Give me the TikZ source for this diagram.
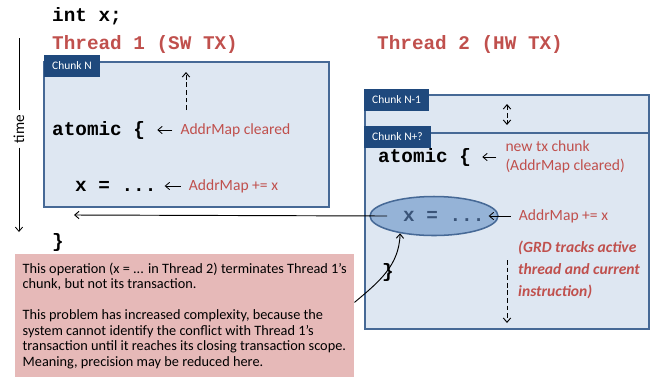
\documentclass[tikz,border=0pt]{standalone}
\usepackage{fontspec}
\setmainfont{Carlito}
\newfontfamily\codefont{Liberation Mono}
\usepackage{tikz}
\usetikzlibrary{shapes,positioning,calc,arrows.meta,arrows}

\definecolor{txred}{RGB}{192,80,77}
\definecolor{chunkfill}{RGB}{222,231,242}
\definecolor{chunkline}{RGB}{70,105,150}
\definecolor{tabblue}{RGB}{31,73,125}
\definecolor{hlfill}{RGB}{149,179,215}
\definecolor{hltext}{RGB}{58,84,120}
\definecolor{remarkfill}{RGB}{230,185,184}

\begin{document}
\begin{tikzpicture}[
    x=0.3mm, y=-0.3mm,
    >={Straight Barb[length=1.3mm,width=2.2mm]},
    code/.style={anchor=west,inner sep=0pt,font=\codefont\bfseries\fontsize{16.5}{19}\selectfont},
    heading/.style={code,text=txred},
    memo/.style={anchor=west,inner sep=0pt,text=txred,align=left,font=\fontsize{13.3}{16}\selectfont},
    chunk/.style={draw=chunkline,fill=chunkfill,line width=1.3pt},
    tab/.style={fill=tabblue,text=white,anchor=north west,inner xsep=2.4mm,minimum height=6.4mm,font=\fontsize{9.8}{11}\selectfont},
    pointer/.style={->,line width=0.7pt,shorten <=2.4mm},
    flow/.style={->,dashed,line width=0.8pt,dash pattern=on 4pt off 2.5pt}
    ]
        \useasboundingbox (0,0) rectangle (652,377);

        % headings
        \node [code](intx) at (52,16) {int x;};
        \node [heading](th1) at (52,44) {Thread 1 (SW TX)};
        \node [heading](th2) at (377,44) {Thread 2 (HW TX)};

        % time axis
        \node [rotate=90,inner xsep=1.3mm,font=\fontsize{13}{15}\selectfont](time) at (19,129) {time};
        \coordinate (ttop) at (19,38);
        \coordinate (tend) at (19,232);
        \draw [line width=0.7pt] (time) -- (ttop);
        \draw [->,line width=0.7pt] (time) -- (tend);

        % thread 1 chunk
        \node [chunk,minimum width=85.5mm,minimum height=43.5mm](chunkN) at (186.5,134.5) {};
        \node [tab](tabN) at (44,55) {Chunk N};
        \node [code](atomic1) at (52,130) {atomic \{};
        \node [memo](clr1) [right=10.5mm of atomic1] {AddrMap cleared};
        \node [code](x1) at (75,186) {x = ...};
        \node [memo](add1) [right=9.6mm of x1] {AddrMap += x};
        \node [code](close1) at (52,242) {\}};
        \draw [pointer,shorten >=3.6mm] (clr1) edge (atomic1);
        \draw [pointer,shorten >=2.4mm] (add1) edge (x1);
        \coordinate (up1s) at (186,110);
        \coordinate (up1e) at (186,72);
        \draw [flow] (up1s) -- (up1e);

        % thread 2 chunks
        \node [chunk,minimum width=85.2mm,minimum height=11.4mm](chunkA) at (507,114) {};
        \node [chunk,minimum width=85.2mm,minimum height=58.8mm](chunkB) at (507,231) {};
        \node [tab](tabA) at (364,89) {Chunk N-1};
        \node [tab](tabB) at (364,126) {Chunk N+?};
        \coordinate (gapt) at (507,104);
        \coordinate (gapb) at (507,125);
        \draw [flow,<->] (gapt) -- (gapb);
        \node [code](atomic2) at (378,157) {atomic \{};
        \node [memo](newtx) [right=10.2mm of atomic2] {new tx chunk\\(AddrMap cleared)};
        \draw [pointer,shorten <=2.7mm,shorten >=3.3mm] (newtx) edge (atomic2);
        \node [ellipse,draw=chunkline,fill=hlfill,line width=1.3pt,minimum width=38.4mm,minimum height=11.7mm](hl) at (434,216) {};
        \node [code,text=hltext](x2) at (403,216) {x = ...};
        \node [memo](add2) [right=10.2mm of x2] {AddrMap += x};
        \draw [pointer,shorten >=1.2mm] (add2) edge (x2);
        \node [memo,font=\bfseries\itshape\fontsize{13.3}{18.5}\selectfont](grd) at (518,270) {(GRD tracks active\\thread and current\\instruction)};
        \node [code](close2) at (382,272) {\}};
        \coordinate (dn2s) at (507,260);
        \coordinate (dn2e) at (507,323);
        \draw [flow] (dn2s) -- (dn2e);

        % conflict
        \coordinate (back) at (74,215);
        \draw [->,line width=0.8pt] ([xshift=5.4mm]hl.west) -- (back);
        \node [fill=remarkfill,anchor=north west,minimum width=101.7mm,minimum height=36.9mm,align=left,font=\fontsize{12.2}{13.2}\selectfont](remark) at (15,254)
            {This operation (x = ... in Thread 2) terminates Thread 1’s\\
             chunk, but not its transaction.\\[13.2pt]
             This problem has increased complexity, because the\\
             system cannot identify the conflict with Thread 1’s\\
             transaction until it reaches its closing transaction scope.\\
             Meaning, precision may be reduced here.};
        \draw [->,line width=0.8pt] ([yshift=4mm]remark.east) to[out=40,in=-92] (hl.-153);
\end{tikzpicture}
\end{document}
